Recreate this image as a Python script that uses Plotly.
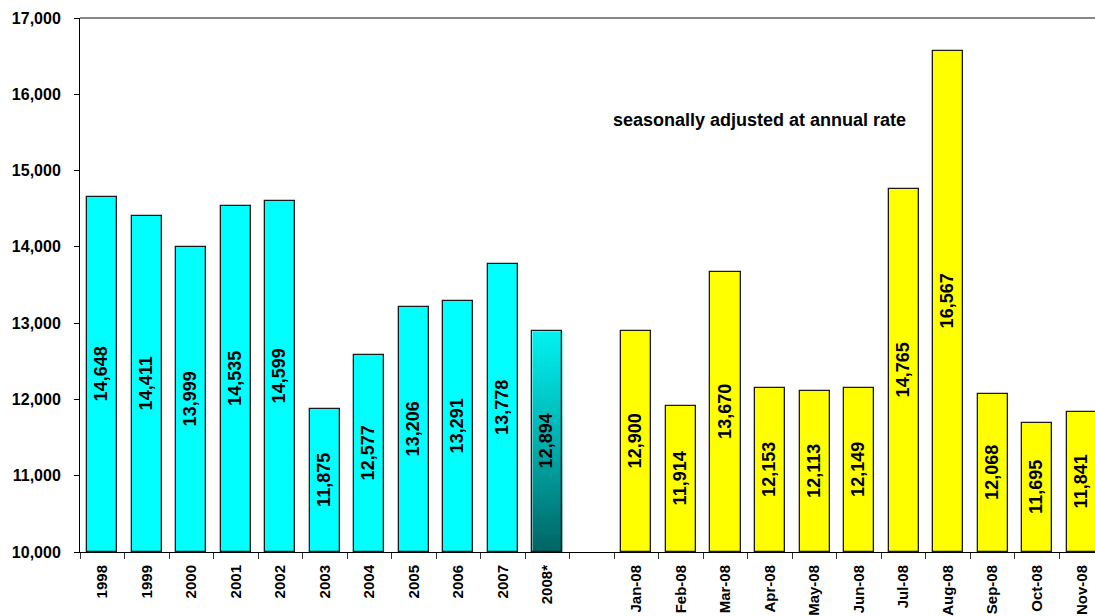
import plotly.graph_objects as go

years = ["1998", "1999", "2000", "2001", "2002", "2003", "2004", "2005", "2006", "2007", "2008*"]
year_values = [14648, 14411, 13999, 14535, 14599, 11875, 12577, 13206, 13291, 13778, 12894]
months = ["Jan-08", "Feb-08", "Mar-08", "Apr-08", "May-08", "Jun-08", "Jul-08", "Aug-08",
          "Sep-08", "Oct-08", "Nov-08"]
month_values = [12900, 11914, 13670, 12153, 12113, 12149, 14765, 16567, 12068, 11695, 11841]
y_ticks = [10000, 11000, 12000, 13000, 14000, 15000, 16000, 17000]
note = "seasonally adjusted at annual rate"

BASE = 10000
BAR_W = 0.675
FONT = "Liberation Sans, Arial, sans-serif"
X_RANGE = [-0.5, 22.30]
Y_RANGE = [BASE, 17000]

year_x = list(range(len(years)))
month_x = [len(years) + 1 + i for i in range(len(months))]
n_slots = len(years) + 1 + len(months)

fig = go.Figure()

# gradient fill for the 2008* bar (built from its data value), on the base axes
gi = len(years) - 1
gx0, gx1 = year_x[gi] - BAR_W / 2, year_x[gi] + BAR_W / 2
gv = year_values[gi]
fig.add_trace(go.Scatter(
    x=[gx0, gx1, gx1, gx0, gx0], y=[BASE, BASE, gv, gv, BASE],
    mode="lines", fill="toself", line=dict(width=0, color="rgba(0,0,0,0)"),
    fillgradient=dict(type="vertical",
                      colorscale=[[0, "#006464"], [0.5, "#00AFAF"], [1, "#00F2F2"]],
                      start=BASE, stop=gv),
    hoverinfo="skip", showlegend=False, xaxis="x", yaxis="y",
))

year_colors = ["#00FFFF"] * (len(years) - 1) + ["rgba(0,0,0,0)"]

fig.add_trace(go.Bar(
    x=year_x, y=[v - BASE for v in year_values], base=BASE, width=BAR_W,
    marker=dict(color=year_colors, line=dict(color="#1a1a1a", width=1.3)),
    text=[f"{v:,}" for v in year_values], textposition="inside", textangle=-90,
    insidetextanchor="middle", constraintext="none",
    textfont=dict(family=FONT, size=18, color="black", weight="bold"),
    showlegend=False, hoverinfo="skip", xaxis="x2", yaxis="y2",
))

fig.add_trace(go.Bar(
    x=month_x, y=[v - BASE for v in month_values], base=BASE, width=BAR_W,
    marker=dict(color="#FFFF00", line=dict(color="#1a1a1a", width=1.3)),
    text=[f"{v:,}" for v in month_values], textposition="inside", textangle=-90,
    insidetextanchor="middle", constraintext="none",
    textfont=dict(family=FONT, size=18, color="black", weight="bold"),
    showlegend=False, hoverinfo="skip", xaxis="x2", yaxis="y2",
))

fig.add_annotation(
    x=14.77, y=15663, xref="x", yref="y", text=note, showarrow=False,
    font=dict(family=FONT, size=18, color="black", weight="bold"),
)

# top border of the plot area
fig.add_shape(type="line", xref="paper", yref="paper", x0=0, x1=1, y0=1, y1=1,
              line=dict(color="#888888", width=2))

fig.update_layout(
    width=1095, height=616,
    margin=dict(l=80, r=0, t=18, b=64, autoexpand=False),
    paper_bgcolor="white", plot_bgcolor="white",
    bargap=0, barmode="overlay",
    font=dict(family=FONT, color="black"),
    xaxis=dict(
        range=X_RANGE, automargin=False,
        tickmode="array", tickvals=year_x + month_x, ticktext=years + months,
        tickangle=-90, ticks="", ticklabelstandoff=6,
        tickfont=dict(family=FONT, size=15, color="black", weight="bold"),
        showline=True, linecolor="black", linewidth=1,
        showgrid=False, zeroline=False,
        minor=dict(tickmode="array", tickvals=[i - 0.5 for i in range(n_slots + 1)],
                   ticks="outside", ticklen=6, tickcolor="#333333", tickwidth=1,
                   showgrid=False),
    ),
    yaxis=dict(
        range=Y_RANGE, tickmode="array", tickvals=y_ticks, automargin=False,
        ticktext=[f"{v:,}" for v in y_ticks],
        ticks="outside", ticklen=5, tickcolor="black", ticklabelstandoff=10,
        tickfont=dict(family=FONT, size=16, color="black", weight="bold"),
        showline=True, linecolor="black", linewidth=1,
        showgrid=False, zeroline=False,
    ),
    xaxis2=dict(overlaying="x", matches="x", visible=False, showgrid=False, zeroline=False),
    yaxis2=dict(overlaying="y", matches="y", visible=False, showgrid=False, zeroline=False),
)

fig.write_html("out.html")
